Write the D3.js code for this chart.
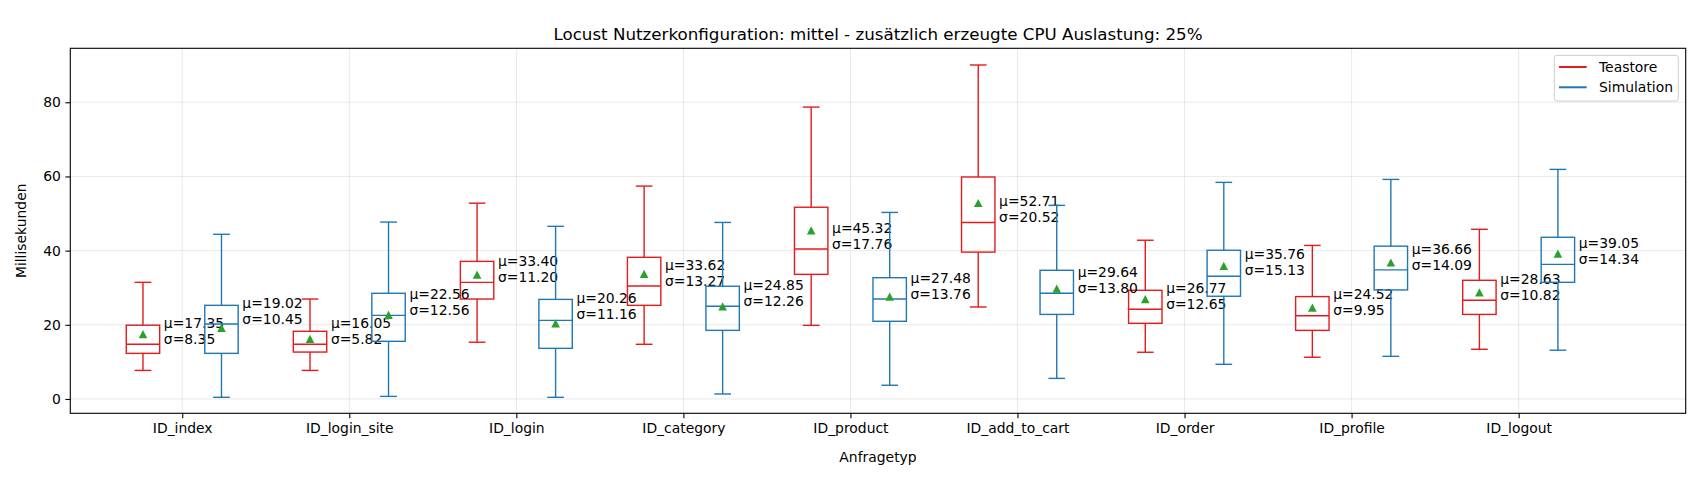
<!DOCTYPE html>
<html lang="de">
<head>
  <meta charset="UTF-8">
  <title>Locust Nutzerkonfiguration: mittel</title>
  <script src="https://d3js.org/d3.v7.min.js"></script>
</head>
<body style="margin: 0; background: #fff;">
<div id="chart"></div>
<script>
  // request types on the x axis
  const categories = ["ID_index", "ID_login_site", "ID_login", "ID_category", "ID_product",
    "ID_add_to_cart", "ID_order", "ID_profile", "ID_logout"];

  // box stats per request: [whisker low, q1, median, q3, whisker high] in ms
  const teastoreBox = [
    [7.7, 12.3, 14.75, 19.9, 31.45],
    [7.7, 12.65, 14.75, 18.25, 26.95],
    [15.3, 26.95, 31.45, 37.1, 52.8],
    [14.75, 25.25, 30.45, 38.2, 57.4],
    [19.85, 33.6, 40.45, 51.7, 78.7],
    [24.8, 39.6, 47.6, 59.85, 90.05],
    [12.6, 20.4, 24.2, 29.3, 42.8],
    [11.25, 18.5, 22.45, 27.6, 41.4],
    [13.4, 22.8, 26.6, 32.0, 45.75]
  ];
  const teastoreMean = [17.35, 16.05, 33.40, 33.62, 45.32, 52.71, 26.77, 24.52, 28.63];
  const teastoreStd = [8.35, 5.82, 11.20, 13.27, 17.76, 20.52, 12.65, 9.95, 10.82];
  const teastoreLabelAt = [18.3, 18.4, 35.05, 34.0, 43.8, 51.1, 27.7, 26.2, 30.25];

  const simulationBox = [
    [0.45, 12.3, 20.2, 25.25, 44.4],
    [0.7, 15.55, 22.55, 28.5, 47.7],
    [0.45, 13.65, 21.2, 26.85, 46.55],
    [1.35, 18.5, 25.0, 30.4, 47.6],
    [3.7, 20.95, 26.95, 32.7, 50.3],
    [5.55, 22.8, 28.5, 34.7, 52.2],
    [9.35, 27.7, 33.1, 40.1, 58.4],
    [11.5, 29.4, 34.8, 41.2, 59.2],
    [13.15, 31.45, 36.3, 43.6, 61.9]
  ];
  const simulationMean = [19.02, 22.56, 20.26, 24.85, 27.48, 29.64, 35.76, 36.66, 39.05];
  const simulationStd = [10.45, 12.56, 11.16, 12.26, 13.76, 13.80, 15.13, 14.09, 14.34];
  const simulationLabelAt = [23.65, 26.2, 24.95, 28.6, 30.4, 32.1, 36.8, 38.3, 39.9];

  const yTicks = [0, 20, 40, 60, 80];

  const width = 1700;
  const height = 480;
  const margin = { top: 48.3, right: 14.3, bottom: 66.7, left: 70.3 };
  const font = "'DejaVu Sans', sans-serif";
  const red = "#e41a1c";
  const blue = "#1f77b4";
  const green = "#2ca02c";

  const series = [
    { name: "Teastore", color: red, box: teastoreBox, mean: teastoreMean, std: teastoreStd, labelAt: teastoreLabelAt, offset: -0.235 },
    { name: "Simulation", color: blue, box: simulationBox, mean: simulationMean, std: simulationStd, labelAt: simulationLabelAt, offset: 0.235 }
  ];

  const svg = d3.select("#chart").append("svg")
    .attr("width", width)
    .attr("height", height)
    .style("font-family", font);

  const x = d3.scaleLinear()
    .domain([-0.67, 9.0])
    .range([margin.left, width - margin.right]);

  const y = d3.scaleLinear()
    .domain([-3.86, 94.55])
    .range([height - margin.bottom, margin.top]);

  const boxWidth = x(0.2) - x(0);

  // grid
  const grid = svg.append("g");
  grid.selectAll("line.gy")
    .data(yTicks)
    .enter().append("line")
    .attr("x1", margin.left).attr("x2", width - margin.right)
    .attr("y1", d => y(d)).attr("y2", d => y(d))
    .attr("stroke", "#b0b0b0").attr("stroke-opacity", 0.35).attr("stroke-width", 0.8);
  grid.selectAll("line.gx")
    .data(categories)
    .enter().append("line")
    .attr("x1", (d, i) => x(i)).attr("x2", (d, i) => x(i))
    .attr("y1", margin.top).attr("y2", height - margin.bottom)
    .attr("stroke", "#b0b0b0").attr("stroke-opacity", 0.35).attr("stroke-width", 0.8);

  // axes
  const xAxis = svg.append("g")
    .attr("transform", `translate(0,${height - margin.bottom})`)
    .call(d3.axisBottom(x).tickValues(d3.range(categories.length)).tickFormat(i => categories[i]).tickSize(4.9).tickPadding(4.5));
  const yAxis = svg.append("g")
    .attr("transform", `translate(${margin.left},0)`)
    .call(d3.axisLeft(y).tickValues(yTicks).tickSize(4.9).tickPadding(4.5));

  [xAxis, yAxis].forEach(a => {
    a.select(".domain").remove();
    a.selectAll("text").style("font-family", font).style("font-size", "13.9px").attr("fill", "#000");
    a.selectAll("line").attr("stroke", "#000").attr("stroke-width", 1.1);
  });

  // frame
  svg.append("rect")
    .attr("x", margin.left).attr("y", margin.top)
    .attr("width", width - margin.left - margin.right)
    .attr("height", height - margin.top - margin.bottom)
    .attr("fill", "none").attr("stroke", "#000").attr("stroke-width", 1.1);

  // boxes
  series.forEach(s => {
    const g = svg.append("g");
    s.box.forEach((b, i) => {
      const cx = x(i + s.offset);
      const [lo, q1, med, q3, hi] = b;
      const line = (x1, y1, x2, y2) => g.append("line")
        .attr("x1", x1).attr("y1", y1).attr("x2", x2).attr("y2", y2)
        .attr("stroke", s.color).attr("stroke-width", 1.4);
      line(cx, y(q1), cx, y(lo));
      line(cx, y(q3), cx, y(hi));
      line(cx - boxWidth / 4, y(lo), cx + boxWidth / 4, y(lo));
      line(cx - boxWidth / 4, y(hi), cx + boxWidth / 4, y(hi));
      g.append("rect")
        .attr("x", cx - boxWidth / 2).attr("y", y(q3))
        .attr("width", boxWidth).attr("height", y(q1) - y(q3))
        .attr("fill", "none").attr("stroke", s.color).attr("stroke-width", 1.4);
      line(cx - boxWidth / 2, y(med), cx + boxWidth / 2, y(med));

      // mean marker
      const my = y(s.mean[i]);
      g.append("path")
        .attr("d", `M${cx},${my - 4.6} L${cx + 4.3},${my + 3.6} L${cx - 4.3},${my + 3.6} Z`)
        .attr("fill", green);

      // label
      const t = g.append("text")
        .attr("x", x(i + s.offset + 0.125))
        .attr("y", y(s.labelAt[i]))
        .style("font-size", "13.9px")
        .attr("fill", "#000");
      t.append("tspan").attr("x", x(i + s.offset + 0.125)).attr("dy", "-0.22em").text(`μ=${s.mean[i].toFixed(2)}`);
      t.append("tspan").attr("x", x(i + s.offset + 0.125)).attr("dy", "1.15em").text(`σ=${s.std[i].toFixed(2)}`);
    });
  });

  // title and axis labels
  svg.append("text")
    .attr("x", (margin.left + width - margin.right) / 2)
    .attr("y", 40)
    .attr("text-anchor", "middle")
    .style("font-size", "16.7px")
    .text("Locust Nutzerkonfiguration: mittel - zusätzlich erzeugte CPU Auslastung: 25%");

  svg.append("text")
    .attr("x", (margin.left + width - margin.right) / 2)
    .attr("y", 461.5)
    .attr("text-anchor", "middle")
    .style("font-size", "13.9px")
    .text("Anfragetyp");

  svg.append("text")
    .attr("transform", "rotate(-90)")
    .attr("x", -(margin.top + height - margin.bottom) / 2)
    .attr("y", 25.5)
    .attr("text-anchor", "middle")
    .style("font-size", "13.9px")
    .text("Millisekunden");

  // legend
  const legend = svg.append("g");
  legend.append("rect")
    .attr("x", 1554.3).attr("y", 55.3)
    .attr("width", 124).attr("height", 45.7)
    .attr("rx", 2.5)
    .attr("fill", "#fff").attr("fill-opacity", 0.8)
    .attr("stroke", "#cccccc").attr("stroke-width", 1);
  series.forEach((s, k) => {
    const ly = 67 + k * 20.3;
    legend.append("line")
      .attr("x1", 1559).attr("x2", 1586.7)
      .attr("y1", ly).attr("y2", ly)
      .attr("stroke", s.color).attr("stroke-width", 2);
    legend.append("text")
      .attr("x", 1599).attr("y", ly)
      .attr("dy", "0.36em")
      .style("font-size", "13.9px")
      .text(s.name);
  });
</script>
</body>
</html>
